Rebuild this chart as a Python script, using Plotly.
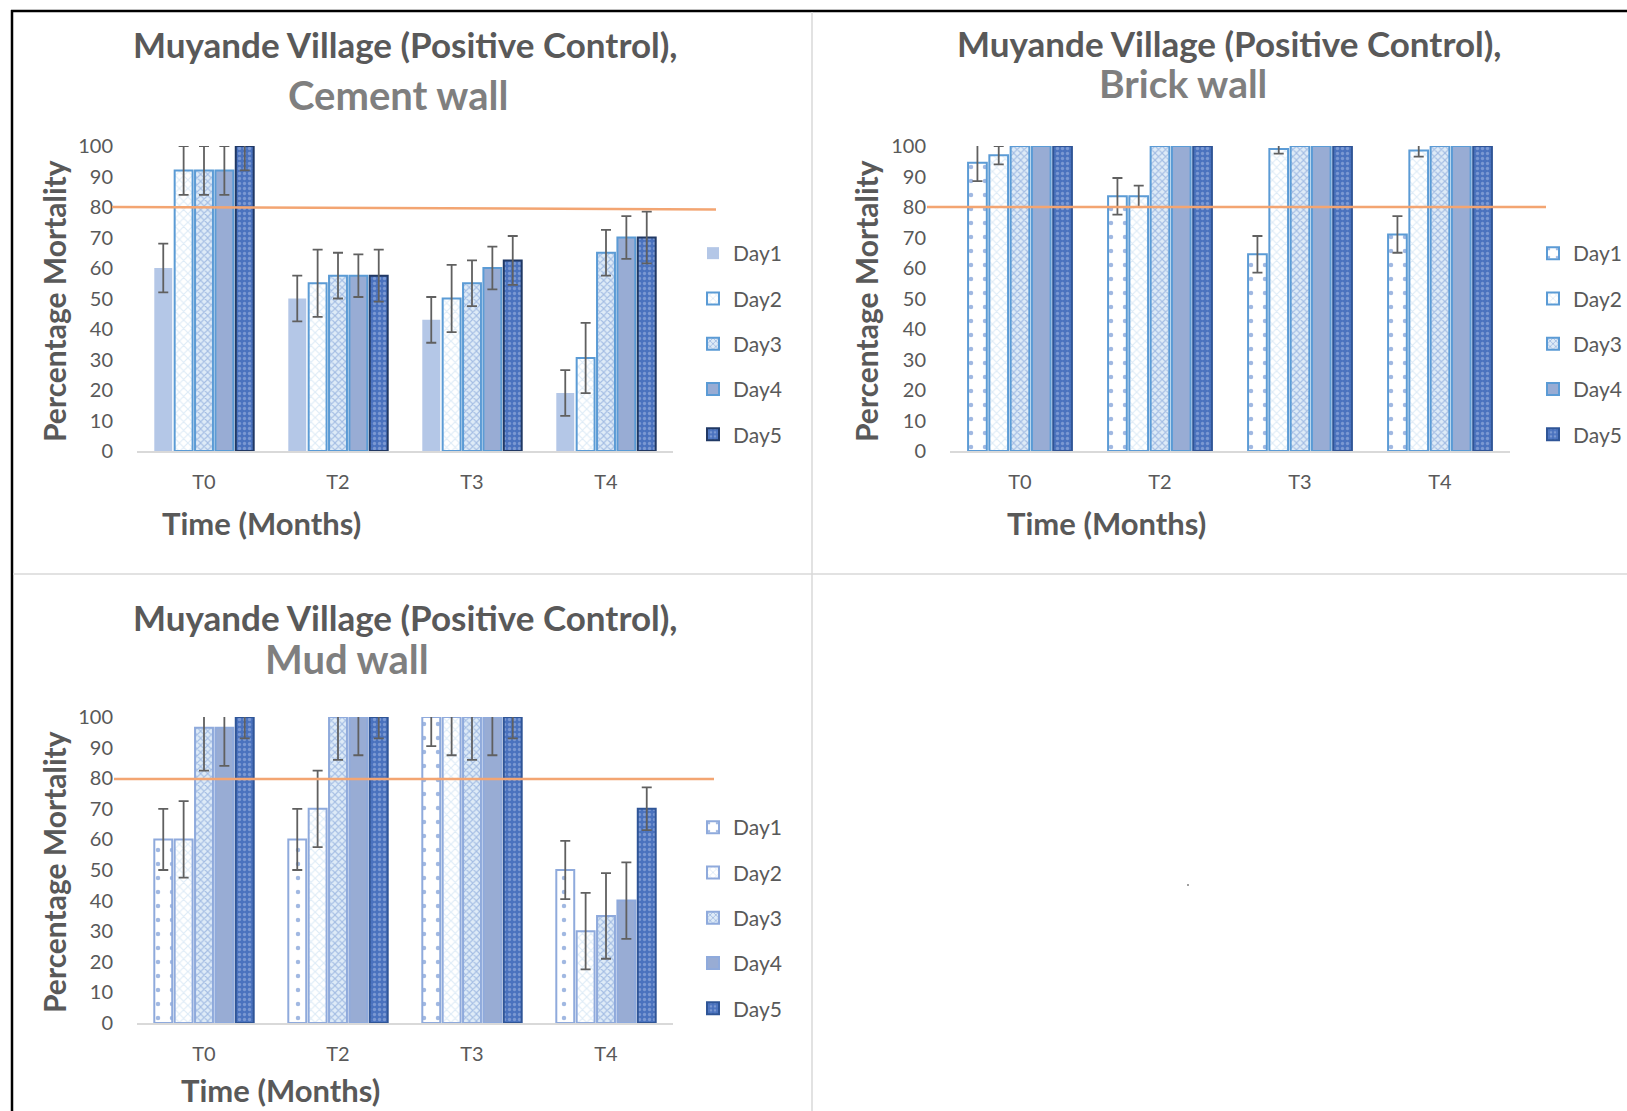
import plotly.graph_objects as go

PAGE_W, PAGE_H = 1627, 1111
OFF = 0
W, H = PAGE_W - 2 * OFF, PAGE_H - 2 * OFF

categories = ["T0", "T2", "T3", "T4"]
days = ["Day1", "Day2", "Day3", "Day4", "Day5"]

# Cement wall
cement_vals = {
    "Day1": [60, 50, 43, 19],
    "Day2": [92, 55, 50, 30.5],
    "Day3": [92, 57.5, 55, 65],
    "Day4": [92, 57.5, 60, 70],
    "Day5": [100, 57.5, 62.5, 70],
}
cement_err = {
    "Day1": [8, 7.5, 7.5, 7.5],
    "Day2": [8, 11, 11, 11.5],
    "Day3": [8, 7.5, 7.5, 7.5],
    "Day4": [8, 7, 7, 7],
    "Day5": [8, 8.5, 8, 8.5],
}

# Brick wall
brick_vals = {
    "Day1": [94.5, 83.5, 64.5, 71],
    "Day2": [97, 83.5, 99, 98.5],
    "Day3": [100, 100, 100, 100],
    "Day4": [100, 100, 100, 100],
    "Day5": [100, 100, 100, 100],
}
brick_err = {
    "Day1": [6, 6, 6, 6],
    "Day2": [3, 3.5, 1.5, 2],
    "Day3": [None, None, None, None],
    "Day4": [None, None, None, None],
    "Day5": [None, None, None, None],
}

# Mud wall
mud_vals = {
    "Day1": [60, 60, 100, 50],
    "Day2": [60, 70, 100, 30],
    "Day3": [96.5, 100, 100, 35],
    "Day4": [96.5, 100, 100, 40],
    "Day5": [100, 100, 100, 70],
}
mud_err = {
    "Day1": [10, 10, 9.5, 9.5],
    "Day2": [12.5, 12.5, 12.5, 12.5],
    "Day3": [14, 14, 14, 14],
    "Day4": [12.5, 12.5, 12.5, 12.5],
    "Day5": [7, 7, 7, 7],
}

threshold = 80

FONT = "Lato"
DARK = "#595959"
LIGHT = "#7F7F7F"


def px_x(x):
    return (x - OFF) / W


def px_y(y):
    return 1 - (y - OFF) / H


def style(day, panel):
    outline = "#5B9BD5" if panel != "mud" else "#8FAADC"
    if day == "Day1":
        if panel == "cement":
            return dict(color="#B4C7E7", line=dict(width=0))
        return dict(color="white", line=dict(color=outline, width=2),
                    pattern=dict(shape=".", bgcolor="white", fgcolor="#4472C4", size=14, solidity=0.08))
    if day == "Day2":
        return dict(color="white", line=dict(color=outline, width=2),
                    pattern=dict(shape="x", bgcolor="white", fgcolor="#BDD7EE", size=6, solidity=0.35))
    if day == "Day3":
        return dict(color="#DEEBF7", line=dict(color=outline, width=2),
                    pattern=dict(shape="x", bgcolor="#DEEBF7", fgcolor="#6A8FD0", size=5, solidity=0.4))
    if day == "Day4":
        return dict(color="#98ACD4", line=dict(color=outline, width=2))
    return dict(color="#4A72BE", line=dict(color="#2F5597" if panel != "cement" else "#203864", width=2),
                pattern=dict(shape=".", bgcolor="#4A72BE", fgcolor="#A9BEE6", size=5, solidity=0.35))


fig = go.Figure()

panels = [
    ("cement", cement_vals, cement_err, "x", "y", "legend"),
    ("brick", brick_vals, brick_err, "x2", "y2", "legend2"),
    ("mud", mud_vals, mud_err, "x3", "y3", "legend3"),
]

for panel, vals, errs, xa, ya, lg in panels:
    for d in days:
        m = style(d, panel)
        e = errs[d]
        fig.add_trace(go.Bar(
            x=categories, y=vals[d], name=d, xaxis=xa, yaxis=ya, legend=lg,
            legendgroup=panel + d, marker=m,
            error_y=dict(type="data", array=e, color="#606060", thickness=1.8, width=5,
                         visible=any(v is not None for v in e)),
        ))

cem_x = [px_x(137), px_x(673)]
brk_x = [px_x(950), px_x(1510)]
top_y = [px_y(451), px_y(146)]
bot_y = [px_y(1023), px_y(717)]

ydict = dict(range=[0, 100], dtick=10, showline=False, ticks="", ticklabelstandoff=23,
             tickfont=dict(family=FONT, size=20, color=DARK),
             showgrid=False, zeroline=False, fixedrange=True)
xdict = dict(showline=True, linecolor="#D9D9D9", linewidth=1.5, ticks="", ticklabelstandoff=12,
             tickfont=dict(family=FONT, size=20, color=DARK),
             showgrid=False, zeroline=False)

fig.update_layout(
    width=W, height=H, autosize=False,
    margin=dict(l=0, r=0, t=0, b=0, pad=0, autoexpand=False),
    paper_bgcolor="white", plot_bgcolor="rgba(0,0,0,0)",
    barmode="group", bargap=0.24, bargroupgap=0.12,
    font=dict(family=FONT, color=DARK),
    xaxis=dict(domain=cem_x, anchor="y", **xdict),
    yaxis=dict(domain=top_y, anchor="x", **ydict),
    xaxis2=dict(domain=brk_x, anchor="y2", **xdict),
    yaxis2=dict(domain=top_y, anchor="x2", **ydict),
    xaxis3=dict(domain=cem_x, anchor="y3", **xdict),
    yaxis3=dict(domain=bot_y, anchor="x3", **ydict),
    showlegend=True,
)

leg_common = dict(font=dict(family=FONT, size=21, color=DARK), bgcolor="rgba(0,0,0,0)",
                  tracegroupgap=15, xanchor="left", yanchor="top", itemclick=False)
fig.update_layout(
    legend=dict(x=px_x(693), y=px_y(233), **leg_common),
    legend2=dict(x=px_x(1533), y=px_y(233), **leg_common),
    legend3=dict(x=px_x(693), y=px_y(807), **leg_common),
)

shapes = []
shapes.append(dict(type="line", xref="paper", yref="paper", x0=px_x(11), x1=1, y0=px_y(11), y1=px_y(11),
                   line=dict(color="black", width=2.5)))
shapes.append(dict(type="line", xref="paper", yref="paper", x0=px_x(12), x1=px_x(12), y0=px_y(10), y1=0,
                   line=dict(color="black", width=2.5)))
shapes.append(dict(type="line", xref="paper", yref="paper", x0=px_x(812), x1=px_x(812), y0=px_y(12), y1=0,
                   line=dict(color="#D9D9D9", width=1.5)))
shapes.append(dict(type="line", xref="paper", yref="paper", x0=px_x(13), x1=1, y0=px_y(574), y1=px_y(574),
                   line=dict(color="#D9D9D9", width=1.5)))
# stray dot in the empty quadrant
shapes.append(dict(type="circle", xref="paper", yref="paper", x0=px_x(1187), x1=px_x(1189), y0=px_y(886), y1=px_y(884),
                   line=dict(width=0), fillcolor="#808080"))
orange = "#F3A572"
shapes.append(dict(type="line", xref="paper", yref="y", x0=px_x(112), x1=px_x(716), y0=threshold, y1=threshold - 0.8,
                   line=dict(color=orange, width=2.5)))
shapes.append(dict(type="line", xref="paper", yref="y2", x0=px_x(927), x1=px_x(1546), y0=threshold, y1=threshold,
                   line=dict(color=orange, width=2.5)))
shapes.append(dict(type="line", xref="paper", yref="y3", x0=px_x(114), x1=px_x(714), y0=threshold - 0.3, y1=threshold - 0.3,
                   line=dict(color=orange, width=2.5)))
fig.update_layout(shapes=shapes)

ann = []


def text(x, y, s, size, color=DARK, bold=True, angle=0):
    ann.append(dict(xref="paper", yref="paper", x=px_x(x), y=px_y(y), text=s, showarrow=False,
                    xanchor="center", yanchor="middle", textangle=angle,
                    font=dict(family=FONT, size=size, color=color, weight="bold" if bold else "normal")))


title1 = "Muyande Village (Positive Control),"
text(405, 44, title1, 35)
text(398, 95, "Cement wall", 40, LIGHT)
text(1229, 43, title1, 35)
text(1183, 83, "Brick wall", 39, LIGHT)
text(405, 617, title1, 35)
text(347, 659, "Mud wall", 40, LIGHT)

text(261, 523, "Time (Months)", 31)
text(1106, 523, "Time (Months)", 31)
text(280, 1090, "Time (Months)", 31)

text(54, 301, "Percentage Mortality", 30, angle=-90)
text(866, 301, "Percentage Mortality", 30, angle=-90)
text(54, 872, "Percentage Mortality", 30, angle=-90)

fig.update_layout(annotations=ann)

fig.write_html("out.html", config={"displayModeBar": False},
               post_script="document.body.style.margin='0';document.body.style.overflow='hidden';")
